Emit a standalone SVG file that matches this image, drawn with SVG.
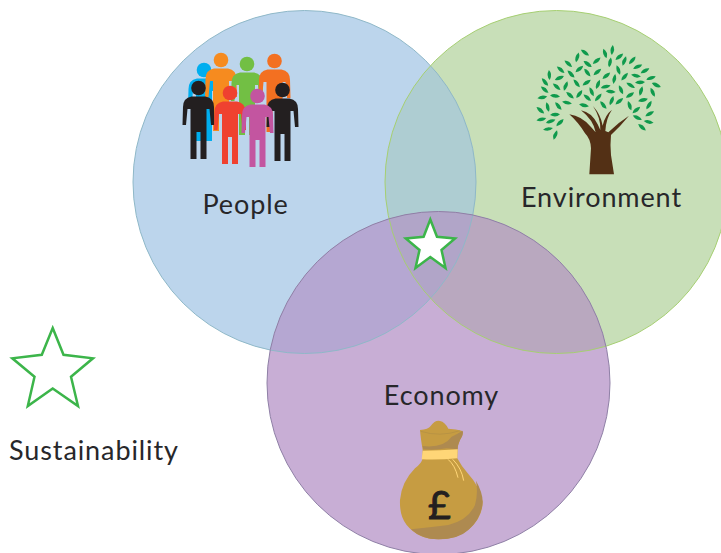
<svg xmlns="http://www.w3.org/2000/svg" width="721" height="553" viewBox="0 0 721 553">
<style>
text{font-family:"Lato","Noto Sans","Liberation Sans",sans-serif;font-size:27px;fill:#27272a;letter-spacing:.9px}
.star{stroke:#3cb54a;stroke-width:2.5;stroke-linejoin:miter}
.leaf{fill:#0f9a4c}
</style>
<defs>
<circle id="cb" cx="304.500" cy="182" r="171.500"/>
<circle id="cg" cx="556.500" cy="182" r="171.500"/>
<circle id="cp" cx="438.500" cy="383" r="171.500"/>
<clipPath id="clipB"><use href="#cb"/></clipPath>
<clipPath id="clipG"><use href="#cg"/></clipPath>
<clipPath id="clipP"><use href="#cp"/></clipPath>
<g id="person">
<circle cx="0" cy="7" r="7.300"/>
<path d="M-7,15.500H7Q15.500,17 15.500,26L16,44H12.500L11,28H8V78H2V51H-2V78H-8V28H-11L-12.500,44H-16L-15.500,26Q-15.500,17 -7,15.500Z"/>
</g>
<path id="lf" d="M-15,0Q-2,-11 15,0Q2,11 -15,0Z"/>
</defs>

<g id="circles">
<use href="#cb" fill="#bcd5ec"/>
<use href="#cg" fill="#c8dfb8"/>
<g clip-path="url(#clipB)"><use href="#cg" fill="#aecdd2"/></g>
<use href="#cp" fill="#c8aed5"/>
<g clip-path="url(#clipP)">
<use href="#cb" fill="#b5a7d2"/>
<use href="#cg" fill="#b9a8bf"/>
<g clip-path="url(#clipB)"><use href="#cg" fill="#b1a5c8"/></g>
</g>
<use href="#cb" fill="none" stroke="#8fb8c8" stroke-width="1"/>
<use href="#cg" fill="none" stroke="#a6cf72" stroke-width="1"/>
<use href="#cp" fill="none" stroke="#8f80a6" stroke-width="1"/>
</g>

<g id="people">
<g id="people-icon">
<use href="#person" x="204" y="63" fill="#00aeef"/>
<use href="#person" x="221" y="53" fill="#f68b1f"/>
<use href="#person" x="247" y="57" fill="#72bf44"/>
<use href="#person" x="274.500" y="54" fill="#f37021"/>
<use href="#person" x="198.500" y="81" fill="#231f20"/>
<use href="#person" x="282.500" y="83" fill="#231f20"/>
<use href="#person" x="230" y="86" fill="#ef4130"/>
<use href="#person" x="257.500" y="89" fill="#c355a0"/>
</g>
<text x="245.500" y="214" text-anchor="middle">People</text>
</g>

<g id="environment">
<g id="tree" transform="translate(525,35) scale(.3333)">
<path fill="#533015" d="M193,418L198,340Q197,312 180,295Q160,262 133,238Q170,243 198,276L212,292Q205,255 168,226Q200,232 218,268L226,285Q228,250 204,213Q228,240 233,272Q240,240 261,224Q243,250 241,288L250,292Q280,262 312,242Q285,275 258,300Q255,330 258,360L267,418Z"/>
<g class="leaf">
<use href="#lf" transform="translate(180,53) rotate(35)"/><use href="#lf" transform="translate(157,67) rotate(-75)"/><use href="#lf" transform="translate(130,86) rotate(40)"/><use href="#lf" transform="translate(188,87) rotate(35)"/><use href="#lf" transform="translate(215,77) rotate(-40)"/><use href="#lf" transform="translate(240,55) rotate(70)"/><use href="#lf" transform="translate(262,45) rotate(-85)"/><use href="#lf" transform="translate(255,82) rotate(-80)"/><use href="#lf" transform="translate(283,65) rotate(-40)"/><use href="#lf" transform="translate(298,78) rotate(-70)"/><use href="#lf" transform="translate(322,76) rotate(-50)"/><use href="#lf" transform="translate(338,95) rotate(-25)"/><use href="#lf" transform="translate(360,107) rotate(-30)"/><use href="#lf" transform="translate(378,129) rotate(-20)"/><use href="#lf" transform="translate(394,150) rotate(25)"/><use href="#lf" transform="translate(383,172) rotate(65)"/><use href="#lf" transform="translate(345,142) rotate(-5)"/><use href="#lf" transform="translate(333,122) rotate(10)"/><use href="#lf" transform="translate(299,125) rotate(-50)"/><use href="#lf" transform="translate(280,105) rotate(70)"/><use href="#lf" transform="translate(268,132) rotate(-80)"/><use href="#lf" transform="translate(244,122) rotate(-40)"/><use href="#lf" transform="translate(217,111) rotate(-40)"/><use href="#lf" transform="translate(187,113) rotate(50)"/><use href="#lf" transform="translate(163,102) rotate(-40)"/><use href="#lf" transform="translate(138,117) rotate(45)"/><use href="#lf" transform="translate(107,104) rotate(40)"/><use href="#lf" transform="translate(103,129) rotate(-25)"/><use href="#lf" transform="translate(73,120) rotate(85)"/><use href="#lf" transform="translate(60,141) rotate(50)"/><use href="#lf" transform="translate(95,155) rotate(40)"/><use href="#lf" transform="translate(122,153) rotate(-70)"/><use href="#lf" transform="translate(155,145) rotate(50)"/><use href="#lf" transform="translate(185,143) rotate(-35)"/><use href="#lf" transform="translate(219,148) rotate(-70)"/><use href="#lf" transform="translate(242,155) rotate(-15)"/><use href="#lf" transform="translate(288,164) rotate(65)"/><use href="#lf" transform="translate(317,151) rotate(30)"/><use href="#lf" transform="translate(348,168) rotate(-75)"/><use href="#lf" transform="translate(315,180) rotate(-35)"/><use href="#lf" transform="translate(257,170) rotate(5)"/><use href="#lf" transform="translate(200,170) rotate(65)"/><use href="#lf" transform="translate(163,177) rotate(-55)"/><use href="#lf" transform="translate(135,181) rotate(40)"/><use href="#lf" transform="translate(90,183) rotate(5)"/><use href="#lf" transform="translate(59,164) rotate(40)"/><use href="#lf" transform="translate(52,187) rotate(-10)"/><use href="#lf" transform="translate(68,216) rotate(75)"/><use href="#lf" transform="translate(46,226) rotate(40)"/><use href="#lf" transform="translate(100,213) rotate(50)"/><use href="#lf" transform="translate(126,203) rotate(10)"/><use href="#lf" transform="translate(177,211) rotate(10)"/><use href="#lf" transform="translate(187,188) rotate(40)"/><use href="#lf" transform="translate(220,187) rotate(-50)"/><use href="#lf" transform="translate(235,210) rotate(50)"/><use href="#lf" transform="translate(260,197) rotate(-70)"/><use href="#lf" transform="translate(283,199) rotate(-40)"/><use href="#lf" transform="translate(314,212) rotate(70)"/><use href="#lf" transform="translate(354,195) rotate(-15)"/><use href="#lf" transform="translate(372,210) rotate(-60)"/><use href="#lf" transform="translate(374,236) rotate(-30)"/><use href="#lf" transform="translate(334,225) rotate(-40)"/><use href="#lf" transform="translate(337,248) rotate(25)"/><use href="#lf" transform="translate(371,261) rotate(10)"/><use href="#lf" transform="translate(351,277) rotate(40)"/><use href="#lf" transform="translate(105,263) rotate(-45)"/><use href="#lf" transform="translate(90,239) rotate(-5)"/><use href="#lf" transform="translate(77,259) rotate(-20)"/><use href="#lf" transform="translate(49,253) rotate(-15)"/><use href="#lf" transform="translate(69,282) rotate(-10)"/><use href="#lf" transform="translate(91,300) rotate(-70)"/>
</g>
</g>
<text x="601.500" y="207" text-anchor="middle">Environment</text>
</g>

<g id="economy">
<text x="441.500" y="405" text-anchor="middle">Economy</text>
<g id="money-bag" transform="translate(380,410) scale(.3333)">
<path fill="#c69c42" d="M120,60Q145,58 152,48Q165,30 180,33Q195,36 205,56Q230,58 245,62Q252,72 240,90Q232,108 233,118L232,145Q245,170 262,188Q300,230 308,275Q308,320 270,355Q235,388 175,388Q115,388 80,345Q58,318 60,270Q65,215 105,175Q125,160 127,148L128,120Q122,85 120,60Z"/>
<path fill="#ae8a50" d="M200,115Q165,122 130,118L128,108Q190,115 215,80Q235,70 248,62Q252,72 240,90Q232,108 233,118Z"/>
<path fill="#ae8a50" d="M288,212Q312,255 307,285Q300,330 265,360Q235,388 175,388Q125,388 93,358Q150,352 205,345Q265,330 285,285Q295,250 288,212Z"/>
<path fill="#ffd677" d="M128,122Q180,122 233,118L232,145Q180,150 125,148Z"/>
<path fill="none" stroke="#ffd677" stroke-width="3" d="M204,148Q225,165 234,203M218,148Q245,175 251,212"/>
<path fill="none" stroke="#a98a45" stroke-width="1.500" d="M122,64Q180,82 240,62"/>
<text x="178" y="326" text-anchor="middle" style="font-size:118px;font-weight:400;fill:#231f20;stroke:#231f20;stroke-width:3;letter-spacing:0">£</text>
</g>
</g>

<g id="center-star">
<polygon class="star" fill="#fff" points="430.300,219.500 437,236.800 455,238.500 441.500,250 445.500,268 430.300,257 415.500,268 419.500,250 405.800,238.500 423.600,236.800"/>
</g>

<g id="legend">
<polygon class="star" fill="none" points="52.700,328 63.500,354.800 93,358.300 71,376.800 78,406 52.700,388.500 27.800,406 34.500,376.800 12.300,358.300 41.800,354.800"/>
<text x="9" y="460">Sustainability</text>
</g>
</svg>
